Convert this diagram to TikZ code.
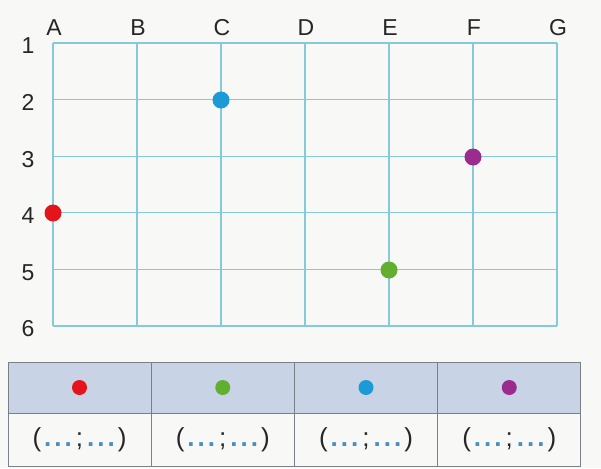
\documentclass[tikz,border=0pt]{standalone}
\usepackage{fontspec}
\setmainfont{Liberation Sans}
\definecolor{bgc}{HTML}{F8F8F6}
\definecolor{gridc}{HTML}{84CAD8}
\definecolor{tabline}{HTML}{7A8088}
\definecolor{headc}{HTML}{C9D3E6}
\definecolor{ptred}{HTML}{E3141B}
\definecolor{ptgreen}{HTML}{62AE2F}
\definecolor{ptblue}{HTML}{1C9AD6}
\definecolor{ptpurple}{HTML}{9A2C8E}
\definecolor{dotc}{HTML}{4A8FC0}
\tikzset{
  gridline/.style={draw=gridc, line width=1.1pt},
  lbl/.style={font=\fontsize{23}{23}\selectfont, text=black!85, inner sep=0pt},
  pt/.style={circle, inner sep=0pt, minimum size=17pt, fill=#1},
  tpt/.style={circle, inner sep=0pt, minimum size=15pt, fill=#1},
  cell/.style={draw=tabline, line width=0.7pt, minimum width=143pt, inner sep=0pt},
  coord/.style={font=\fontsize{26}{26}\selectfont, text=black!85}
}
\newcommand{\blank}{\textcolor{dotc}{\bfseries\kern3pt.\kern3pt.\kern3pt.\kern3pt}}
\begin{document}
\begin{tikzpicture}[x=1pt,y=-1pt]
\useasboundingbox (0,0) rectangle (601,468);
\fill[bgc] (0,0) rectangle (601,468);
% grid
\foreach \i in {0,...,6} {
  \draw[gridline] (53+84*\i,43) -- (53+84*\i,326);
}
\foreach \j in {0,...,5} {
  \draw[gridline] (53,43+56.6*\j) -- (557,43+56.6*\j);
}
% column labels
\foreach \l [count=\i from 0] in {A,B,C,D,E,F,G} {
  \node[lbl] (col\l) at (54+84*\i,28) {\l};
}
% row labels
\foreach \r [count=\j from 0] in {1,2,3,4,5,6} {
  \node[lbl] (row\r) at (28,46+56.6*\j) {\r};
}
% points
\node[pt=ptblue] (pC2) at (221,100) {};
\node[pt=ptpurple] (pF3) at (473,157) {};
\node[pt=ptred] (pA4) at (53,213) {};
\node[pt=ptgreen] (pE5) at (389,270) {};
% table
\foreach \k/\c in {0/ptred,1/ptgreen,2/ptblue,3/ptpurple} {
  \node[cell, fill=headc, minimum height=51pt] (h\k) at (79.5+143.25*\k,387.5) {};
  \node[cell, minimum height=53pt] (v\k) at (79.5+143.25*\k,439.5) {};
  \node[tpt=\c] (t\k) at (h\k.center) {};
  \node[coord] (c\k) at (v\k.center) {(\blank\kern1pt;\kern1pt\blank)};
}
\end{tikzpicture}
\end{document}
